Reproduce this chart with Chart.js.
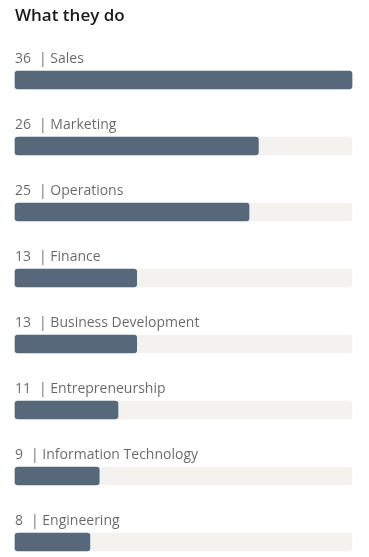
<!DOCTYPE html>
<html>
<head>
<meta charset="utf-8">
<script src="https://cdn.jsdelivr.net/npm/chart.js@4"></script>
<style>
  html, body { margin: 0; padding: 0; background: #fff; overflow: hidden; }
  #wrap { position: relative; width: 369px; height: 557px; }
</style>
</head>
<body>
<div id="wrap"><canvas id="chart" width="369" height="557"></canvas></div>
<script>
// functions and how many people do them
const functions = ['Sales', 'Marketing', 'Operations', 'Finance', 'Business Development',
    'Entrepreneurship', 'Information Technology', 'Engineering'];
const counts = [36, 26, 25, 13, 13, 11, 9, 8];
const maxCount = 36;
const trackValues = functions.map(() => maxCount);

const fillColor = '#56687a';
const trackColor = '#f3f2ef';
const fontFamily = '"Open Sans", "Noto Sans", sans-serif';

// title and the "N | name" line above every bar
const rowLabels = {
    id: 'rowLabels',
    afterDatasetsDraw(chart) {
        const ctx = chart.ctx;
        ctx.save();
        ctx.fillStyle = 'rgba(0,0,0,0.9)';
        ctx.font = '600 17px ' + fontFamily;
        ctx.textBaseline = 'alphabetic';
        ctx.fillText('What they do', 15, 21);

        ctx.font = '14px ' + fontFamily;
        ctx.fillStyle = 'rgba(0,0,0,0.6)';
        const meta = chart.getDatasetMeta(0);
        meta.data.forEach((bar, i) => {
            const x = chart.chartArea.left;
            const y = bar.y - 17;
            const num = String(counts[i]);
            ctx.fillText(num, x, y);
            const w = ctx.measureText(num).width;
            ctx.fillText('| ' + functions[i], x + w + 8, y);
        });
        ctx.restore();
    }
};

new Chart(document.getElementById('chart'), {
    type: 'bar',
    data: {
        labels: functions,
        datasets: [
            {
                data: counts,
                backgroundColor: fillColor,
                borderRadius: 3,
                borderSkipped: false,
                barThickness: 18,
                grouped: false,
                order: 1,
                clip: false
            },
            {
                data: trackValues,
                backgroundColor: trackColor,
                borderRadius: 3,
                borderSkipped: false,
                barThickness: 18,
                grouped: false,
                order: 2,
                clip: false
            }
        ]
    },
    options: {
        indexAxis: 'y',
        responsive: false,
        animation: false,
        layout: {
            padding: { top: 80, bottom: 15, left: 15, right: 17 }
        },
        plugins: {
            legend: { display: false },
            tooltip: { enabled: false },
            title: { display: false }
        },
        scales: {
            x: { display: false, min: 0, max: maxCount },
            y: { display: false, offset: false }
        }
    },
    plugins: [rowLabels]
});
</script>
</body>
</html>
